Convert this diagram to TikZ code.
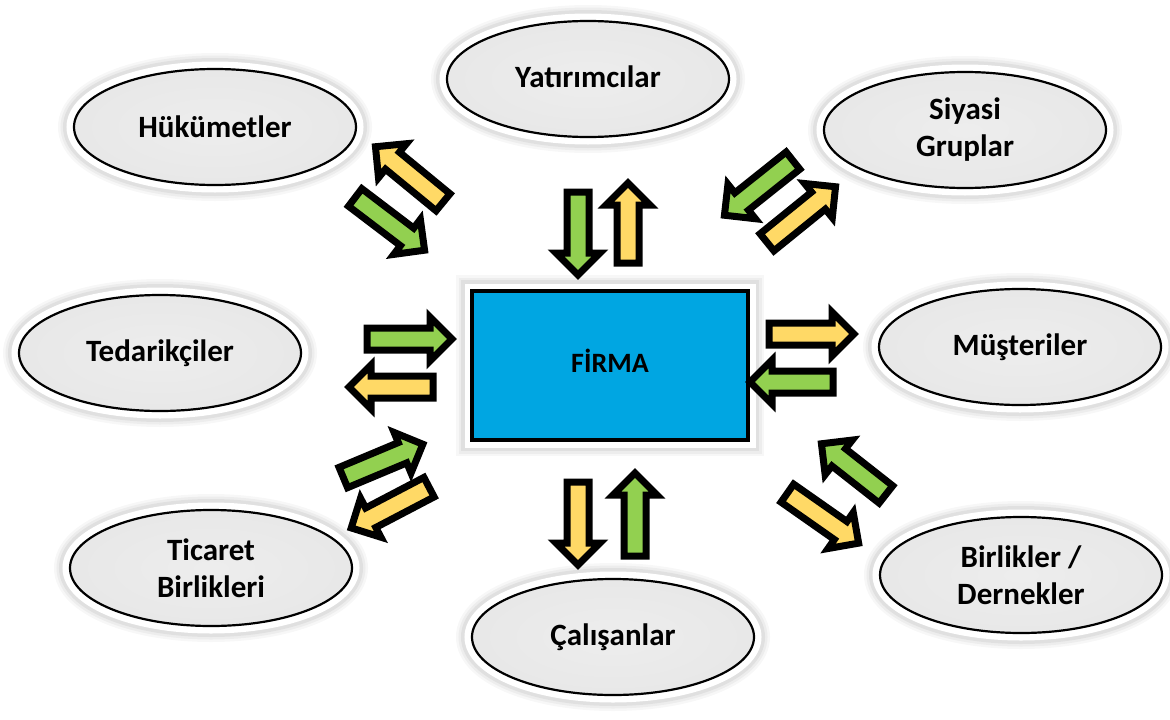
\documentclass[tikz,border=0pt]{standalone}
\usepackage{fontspec}
\setmainfont{Carlito}
\usetikzlibrary{shapes.geometric,shapes.arrows,calc}
\definecolor{agreen}{HTML}{92D050}
\definecolor{ayellow}{HTML}{FFD966}
\definecolor{firmblue}{HTML}{00A6E2}
\pgfdeclareradialshading{rim}{\pgfpoint{0bp}{0bp}}{color(0bp)=(black!7); color(36bp)=(black!10); color(46bp)=(black!24); color(50bp)=(black!42); color(72bp)=(black!42)}
\newcommand\blockarrow[4]{%
  \path let \p1=($(#3)-(#2)$), \n1={atan2(\y1,\x1)}, \n2={veclen(\x1,\y1)-7} in
    node[barrow, fill=#4, rotate=\n1, minimum height=\n2] (#1) at ($(#2)!0.5!(#3)$) {};
}
\begin{document}
\begin{tikzpicture}[x=1pt,y=-1pt,
  halo/.style={preaction={draw=black, draw opacity=0.03, line width=32pt},
               preaction={draw=black, draw opacity=0.04, line width=27pt},
               preaction={draw=black, draw opacity=0.05, line width=22pt},
               preaction={draw=white, line width=15pt}},
  stake/.style={ellipse, halo, minimum width=282pt, minimum height=116pt, inner sep=0pt,
               draw=black, line width=2.2pt, shade, shading=rim, align=center,
               font=\fontsize{31}{37}\selectfont\bfseries},
  firm/.style={rectangle, halo, minimum width=276pt, minimum height=149pt, inner sep=0pt,
               draw=black, line width=3.5pt, fill=firmblue,
               font=\fontsize{28}{30}\selectfont\bfseries},
  barrow/.style={single arrow, draw=black, line width=7pt, line join=miter, inner sep=7.5pt,
               minimum width=38pt, single arrow head extend=11pt, single arrow tip angle=90,
               single arrow head indent=0pt}
]
\path[use as bounding box, fill=white] (0,0) rectangle (1170,720);

\node[firm] (firma) at (610,365.5) {\raisebox{10pt}{FİRMA}};

\node[stake] (yat) at (588,79) {\raisebox{4pt}{Yatırımcılar}};
\node[stake] (huk) at (215,127) {Hükümetler};
\node[stake] (siy) at (965,130) {Siyasi\\Gruplar};
\node[stake] (ted) at (160,353) {Tedarikçiler};
\node[stake] (mus) at (1020,347) {Müşteriler};
\node[stake] (tic) at (211,568) {Ticaret\\Birlikleri};
\node[stake] (cal) at (613,637) {\raisebox{3pt}{Çalışanlar}};
\node[stake] (bir) at (1021,575) {Birlikler /\\Dernekler};

\blockarrow{a1}{450,208}{377,148}{ayellow}
\blockarrow{a2}{348,192}{423,249}{agreen}
\blockarrow{a3}{578,183}{578,273}{agreen}
\blockarrow{a4}{628,272}{628,185}{ayellow}
\blockarrow{a5}{800,155}{726,214}{agreen}
\blockarrow{a6}{760,248}{834,188}{ayellow}
\blockarrow{a7}{358,339}{450,339}{agreen}
\blockarrow{a8}{442,387}{351,387}{ayellow}
\blockarrow{a9}{760,334}{852,334}{ayellow}
\blockarrow{a10}{842,382}{752,382}{agreen}
\blockarrow{a11}{335,481}{421,445}{agreen}
\blockarrow{a12}{437,483}{353,527}{ayellow}
\blockarrow{a13}{578,473}{578,563}{ayellow}
\blockarrow{a14}{635,565}{635,475}{agreen}
\blockarrow{a15}{893,500}{823,445}{agreen}
\blockarrow{a16}{780,488}{857,542}{ayellow}
\end{tikzpicture}
\end{document}
